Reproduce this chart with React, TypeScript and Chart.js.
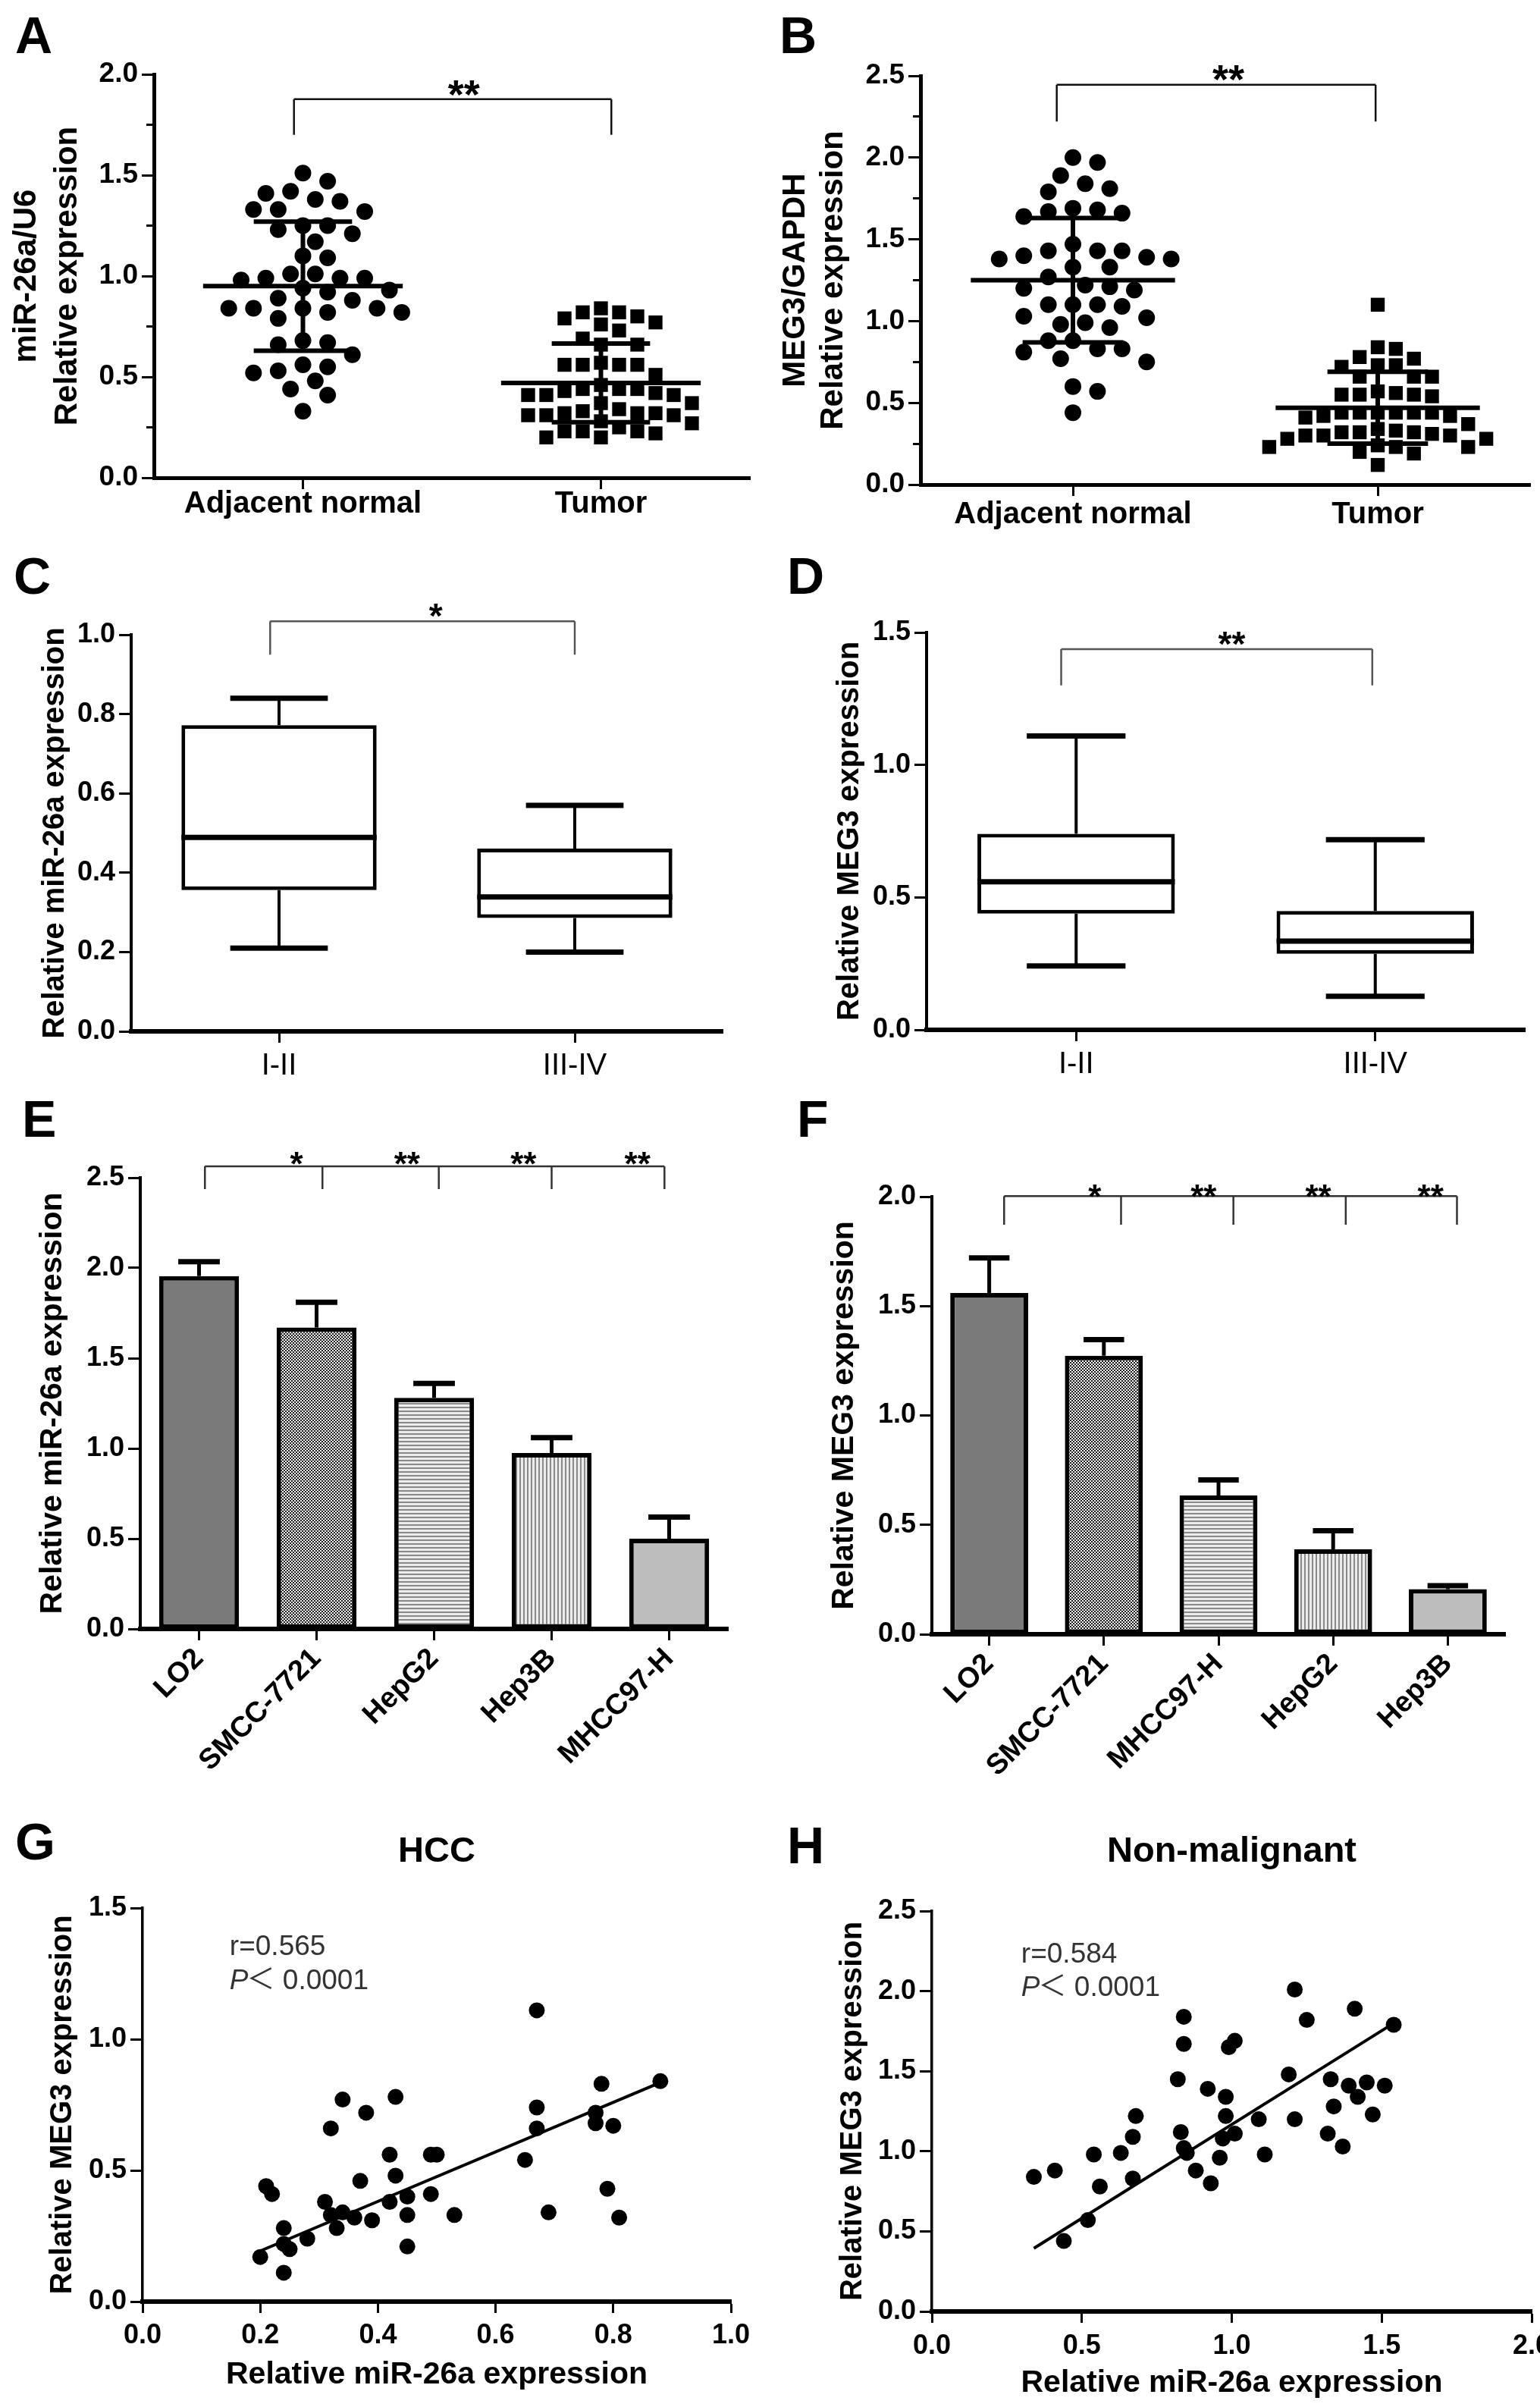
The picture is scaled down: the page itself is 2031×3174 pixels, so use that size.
import { useEffect, useRef } from "react";
import { Chart, registerables } from "chart.js";

Chart.register(...registerables);

const FONT = "'Liberation Sans', Arial, Helvetica, sans-serif";

// A: miR-26a/U6 in tissue
const tissueGroups = ["Adjacent normal", "Tumor"];
const mirNormal = [1.51, 1.47, 1.42, 1.41, 1.38, 1.37, 1.33, 1.33, 1.32, 1.25, 1.25, 1.21, 1.23, 1.17, 1.10, 1.09, 0.99, 0.99, 1.01, 1.01, 0.98, 0.99, 0.94, 0.92, 0.93, 0.88, 0.89, 0.84, 0.84, 0.82, 0.79, 0.82, 0.84, 0.84, 0.67, 0.66, 0.68, 0.61, 0.55, 0.52, 0.53, 0.56, 0.44, 0.48, 0.41, 0.33];
const mirTumor = [0.84, 0.82, 0.82, 0.79, 0.77, 0.80, 0.76, 0.73, 0.69, 0.66, 0.66, 0.56, 0.56, 0.57, 0.56, 0.56, 0.51, 0.46, 0.44, 0.44, 0.42, 0.41, 0.44, 0.41, 0.41, 0.43, 0.37, 0.37, 0.33, 0.31, 0.32, 0.32, 0.31, 0.31, 0.32, 0.34, 0.28, 0.27, 0.25, 0.23, 0.22, 0.20, 0.20, 0.23, 0.23];
const mirTissueMean = [0.95, 0.47];
const mirTissueSD = [0.32, 0.195];

// B: MEG3/GAPDH in tissue
const megNormal = [2.00, 1.97, 1.89, 1.84, 1.81, 1.79, 1.69, 1.67, 1.66, 1.64, 1.68, 1.43, 1.40, 1.39, 1.47, 1.38, 1.38, 1.43, 1.43, 1.33, 1.33, 1.27, 1.21, 1.19, 1.20, 1.22, 1.09, 1.10, 1.10, 1.10, 1.02, 1.03, 0.98, 0.96, 0.99, 0.88, 0.88, 0.83, 0.75, 0.77, 0.81, 0.83, 0.60, 0.57, 0.44];
const megTumor = [1.10, 0.84, 0.83, 0.77, 0.78, 0.73, 0.73, 0.72, 0.66, 0.66, 0.66, 0.57, 0.55, 0.55, 0.54, 0.56, 0.55, 0.44, 0.44, 0.44, 0.42, 0.37, 0.41, 0.42, 0.44, 0.44, 0.44, 0.34, 0.32, 0.30, 0.31, 0.28, 0.30, 0.28, 0.30, 0.32, 0.32, 0.33, 0.24, 0.23, 0.20, 0.19, 0.23, 0.23, 0.12];
const megTissueMean = [1.25, 0.47];
const megTissueSD = [0.38, 0.22];

// C / D: box plots by stage
const stageLabels = ["I-II", "III-IV"];
const mirStageMin = [0.21, 0.20];
const mirStageQ1 = [0.356, 0.286];
const mirStageMed = [0.489, 0.339];
const mirStageQ3 = [0.772, 0.461];
const mirStageMax = [0.84, 0.57];
const megStageMin = [0.241, 0.127];
const megStageQ1 = [0.439, 0.287];
const megStageMed = [0.559, 0.335];
const megStageQ3 = [0.74, 0.449];
const megStageMax = [1.109, 0.718];

// E / F: cell lines
const cellsE = ["LO2", "SMCC-7721", "HepG2", "Hep3B", "MHCC97-H"];
const mirCell = [1.955, 1.67, 1.28, 0.975, 0.50];
const mirCellErr = [0.08, 0.14, 0.08, 0.085, 0.12];
const cellsF = ["LO2", "SMCC-7721", "MHCC97-H", "HepG2", "Hep3B"];
const megCell = [1.56, 1.273, 0.634, 0.388, 0.206];
const megCellErr = [0.16, 0.074, 0.071, 0.085, 0.016];

// G / H: correlation
const hccMir = [0.88, 0.67, 0.67, 0.67, 0.78, 0.77, 0.77, 0.80, 0.65, 0.79, 0.69, 0.81, 0.34, 0.43, 0.38, 0.32, 0.42, 0.49, 0.50, 0.43, 0.37, 0.49, 0.45, 0.42, 0.45, 0.53, 0.21, 0.22, 0.31, 0.32, 0.34, 0.36, 0.39, 0.33, 0.24, 0.28, 0.24, 0.25, 0.45, 0.20, 0.24];
const hccMeg = [0.84, 1.11, 0.74, 0.66, 0.83, 0.72, 0.68, 0.67, 0.54, 0.43, 0.34, 0.32, 0.77, 0.78, 0.72, 0.66, 0.56, 0.56, 0.56, 0.48, 0.46, 0.41, 0.40, 0.38, 0.33, 0.33, 0.44, 0.41, 0.38, 0.33, 0.34, 0.32, 0.31, 0.28, 0.28, 0.24, 0.22, 0.20, 0.21, 0.17, 0.11];
const hccFitX = [0.2, 0.88];
const hccFitY = [0.193, 0.835];
const nonMir = [0.34, 0.41, 0.44, 0.52, 0.54, 0.56, 0.63, 0.67, 0.67, 0.68, 0.84, 0.84, 0.82, 0.83, 0.84, 0.85, 0.88, 0.92, 0.93, 0.96, 0.98, 0.98, 0.97, 0.99, 1.01, 1.01, 1.09, 1.11, 1.19, 1.21, 1.21, 1.25, 1.33, 1.34, 1.32, 1.37, 1.39, 1.41, 1.42, 1.45, 1.47, 1.51, 1.54];
const nonMeg = [0.84, 0.88, 0.44, 0.57, 0.98, 0.78, 0.99, 0.83, 1.09, 1.22, 1.84, 1.67, 1.45, 1.12, 1.02, 0.99, 0.88, 1.39, 0.80, 0.96, 1.34, 1.22, 1.08, 1.65, 1.69, 1.11, 1.20, 0.98, 1.48, 2.01, 1.20, 1.82, 1.45, 1.28, 1.11, 1.03, 1.41, 1.89, 1.34, 1.43, 1.23, 1.41, 1.79];
const nonFitX = [0.34, 1.54];
const nonFitY = [0.394, 1.80];

type Box = { left: number; top: number; w: number; h: number; l: number; t: number; r: number; b: number };

const boxA: Box = { left: 0, top: 0, w: 1015, h: 720, l: 203, t: 98, r: 989, b: 630 };
const boxB: Box = { left: 1015, top: 0, w: 1016, h: 720, l: 199, t: 100, r: 1008, b: 639 };
const boxC: Box = { left: 0, top: 720, w: 1015, h: 700, l: 173, t: 117, r: 953, b: 640 };
const boxD: Box = { left: 1015, top: 720, w: 1016, h: 700, l: 207, t: 114, r: 996, b: 638 };
const boxE: Box = { left: 0, top: 1420, w: 1015, h: 960, l: 185, t: 133, r: 960, b: 728 };
const boxF: Box = { left: 1015, top: 1420, w: 1016, h: 960, l: 214, t: 158, r: 970, b: 735 };
const boxG: Box = { left: 0, top: 2380, w: 1015, h: 794, l: 188, t: 136, r: 964, b: 655 };
const boxH: Box = { left: 1015, top: 2380, w: 1016, h: 794, l: 214, t: 140, r: 1005, b: 668 };

const base = (box: Box) => ({
  responsive: false,
  animation: false,
  layout: { padding: { left: 0, top: box.t, right: box.w - box.r, bottom: 0 } },
  plugins: { legend: { display: false }, tooltip: { enabled: false } },
});

function valueAxis(box: Box, o: any) {
  return {
    type: "linear",
    position: "left",
    weight: 1,
    min: 0,
    max: o.max,
    afterFit: (s: any) => { s.width = box.l; s.paddingTop = 0; s.paddingBottom = 0; },
    border: { display: true, color: "#000", width: o.border },
    grid: { display: true, drawOnChartArea: false, drawTicks: true, tickLength: 16, tickWidth: 3, tickColor: "#000" },
    ticks: {
      stepSize: o.step, padding: 5, color: "#000",
      font: { family: FONT, size: o.size, weight: "bold" },
      callback: (v: any) => Number(v).toFixed(1),
    },
    title: {
      display: true, text: o.title, color: "#000",
      font: { family: FONT, size: o.titleSize, weight: "bold", lineHeight: o.titleLH ?? 1.2 },
      padding: { top: o.titlePad, bottom: 0 },
    },
  };
}

function minorAxis(max: number, step: number) {
  return {
    type: "linear",
    position: "left",
    weight: 0,
    min: 0,
    max,
    afterFit: (s: any) => { s.width = 0; s.paddingTop = 0; s.paddingBottom = 0; },
    border: { display: false },
    grid: { display: true, drawOnChartArea: false, drawTicks: true, tickLength: 10, tickWidth: 3, tickColor: "#000" },
    ticks: { stepSize: step, display: false },
  };
}

function groupAxis(box: Box, labels: string[], o: any) {
  return {
    type: "linear",
    min: -0.5,
    max: labels.length - 0.5,
    afterBuildTicks: (s: any) => { s.ticks = labels.map((_, i) => ({ value: i })); },
    afterFit: (s: any) => { s.height = box.h - box.b; s.paddingLeft = 0; s.paddingRight = 0; },
    border: { display: true, color: "#000", width: o.border },
    grid: { display: true, drawOnChartArea: false, drawTicks: true, tickLength: 15, tickWidth: 3, tickColor: "#000" },
    ticks: {
      autoSkip: false, maxRotation: 0, minRotation: 0, padding: o.pad, color: "#000",
      font: { family: FONT, size: o.size, weight: "bold", lineHeight: 1 },
      callback: (v: any) => labels[Math.round(Number(v))],
    },
  };
}

function catAxis(box: Box, o: any) {
  return {
    type: "category",
    offset: true,
    afterFit: (s: any) => { s.height = box.h - box.b; s.paddingLeft = 0; s.paddingRight = 0; },
    border: { display: true, color: "#000", width: o.border },
    grid: { display: true, offset: false, drawOnChartArea: false, drawTicks: true, tickLength: 15, tickWidth: 3, tickColor: "#000" },
    ticks: {
      autoSkip: false, minRotation: o.rot, maxRotation: o.rot, padding: o.pad, color: "#000",
      font: { family: FONT, size: o.size, weight: o.weight, lineHeight: o.lh },
    },
  };
}

function numAxis(box: Box, o: any) {
  return {
    type: "linear",
    min: 0,
    max: o.max,
    afterFit: (s: any) => { s.height = box.h - box.b; s.paddingLeft = 0; s.paddingRight = 0; },
    border: { display: true, color: "#000", width: o.border },
    grid: { display: true, drawOnChartArea: false, drawTicks: true, tickLength: 15, tickWidth: 3, tickColor: "#000" },
    ticks: {
      stepSize: o.step, padding: o.pad, color: "#000",
      font: { family: FONT, size: o.size, weight: "bold" },
      callback: (v: any) => Number(v).toFixed(1),
    },
    title: {
      display: true, text: o.title, color: "#000",
      font: { family: FONT, size: o.titleSize, weight: "bold", lineHeight: 1.2 },
      padding: { top: 0, bottom: o.titlePad },
    },
  };
}

// spread equal-ish values sideways so that dots do not overlap
function swarm(vals: number[], center: number, pxX: number, pxY: number, gap: number, step: number, square: boolean) {
  const placed: { dx: number; py: number }[] = [];
  const out: { x: number; y: number }[] = new Array(vals.length);
  const order = vals.map((_, i) => i).sort((a, b) => vals[b] - vals[a]);
  for (const i of order) {
    const py = vals[i] * pxY;
    for (let k = 0; k < 80; k++) {
      const dx = (k % 2 ? 1 : -1) * Math.ceil(k / 2) * step;
      const clash = placed.some((p) =>
        square ? Math.abs(p.dx - dx) < gap && Math.abs(p.py - py) < gap : Math.hypot(p.dx - dx, p.py - py) < gap
      );
      if (!clash) {
        placed.push({ dx, py });
        out[i] = { x: center + dx / pxX, y: vals[i] };
        break;
      }
    }
  }
  return out;
}

function pattern(kind: string): any {
  if (kind === "dark") return "#7a7a7a";
  if (kind === "light") return "#bdbdbd";
  const c = document.createElement("canvas");
  const g = c.getContext("2d")!;
  if (kind === "checker") {
    c.width = 4; c.height = 4;
    g.fillStyle = "#f2f2f2"; g.fillRect(0, 0, 4, 4);
    g.fillStyle = "#1e1e1e"; g.fillRect(0, 0, 2, 2); g.fillRect(2, 2, 2, 2);
  } else if (kind === "hlines") {
    c.width = 4; c.height = 5;
    g.fillStyle = "#ececec"; g.fillRect(0, 0, 4, 5);
    g.fillStyle = "#8a8a8a"; g.fillRect(0, 0, 4, 2);
  } else {
    c.width = 5; c.height = 4;
    g.fillStyle = "#ececec"; g.fillRect(0, 0, 5, 4);
    g.fillStyle = "#8a8a8a"; g.fillRect(0, 0, 2, 4);
  }
  return g.createPattern(c, "repeat");
}
const barKinds = ["dark", "checker", "hlines", "vlines", "light"];

const decor = (draw: (c: any, ctx: CanvasRenderingContext2D) => void) => ({
  id: "decor",
  afterDraw(c: any) {
    const ctx = c.ctx;
    ctx.save();
    draw(c, ctx);
    ctx.restore();
  },
});

function letter(ctx: CanvasRenderingContext2D, s: string, x: number, baseline: number) {
  ctx.fillStyle = "#000";
  ctx.font = `bold 68px ${FONT}`;
  ctx.textAlign = "left";
  ctx.textBaseline = "alphabetic";
  ctx.fillText(s, x, baseline);
}

function bracket(c: any, ctx: CanvasRenderingContext2D, xs: number[], top: number, drop: number, stars: string[], starXs: number[], starY: number, o: any) {
  const X = c.scales.x, Y = c.scales.y;
  const yt = Y.getPixelForValue(top), yd = Y.getPixelForValue(drop);
  ctx.strokeStyle = o.color;
  ctx.lineWidth = o.lw;
  ctx.beginPath();
  ctx.moveTo(X.getPixelForValue(xs[0]), yt);
  ctx.lineTo(X.getPixelForValue(xs[xs.length - 1]), yt);
  xs.forEach((v) => {
    ctx.moveTo(X.getPixelForValue(v), yt);
    ctx.lineTo(X.getPixelForValue(v), yd);
  });
  ctx.stroke();
  ctx.fillStyle = "#000";
  ctx.font = `bold ${o.size}px ${FONT}`;
  ctx.textAlign = "center";
  ctx.textBaseline = "alphabetic";
  stars.forEach((s, i) => ctx.fillText(s, X.getPixelForValue(starXs[i]), Y.getPixelForValue(starY) + 0.56 * o.size));
}

function meanSd(c: any, ctx: CanvasRenderingContext2D, means: number[], sds: number[]) {
  const X = c.scales.x, Y = c.scales.y;
  ctx.strokeStyle = "#000";
  ctx.lineWidth = 6;
  ctx.beginPath();
  means.forEach((m, i) => {
    const y0 = Y.getPixelForValue(m), yHi = Y.getPixelForValue(m + sds[i]), yLo = Y.getPixelForValue(m - sds[i]);
    ctx.moveTo(X.getPixelForValue(i - 0.335), y0);
    ctx.lineTo(X.getPixelForValue(i + 0.335), y0);
    ctx.moveTo(X.getPixelForValue(i), yHi);
    ctx.lineTo(X.getPixelForValue(i), yLo);
    ctx.moveTo(X.getPixelForValue(i - 0.165), yHi);
    ctx.lineTo(X.getPixelForValue(i + 0.165), yHi);
    ctx.moveTo(X.getPixelForValue(i - 0.165), yLo);
    ctx.lineTo(X.getPixelForValue(i + 0.165), yLo);
  });
  ctx.stroke();
}

function whiskers(c: any, ctx: CanvasRenderingContext2D, mins: number[], q1: number[], med: number[], q3: number[], maxs: number[]) {
  const Y = c.scales.y;
  const meta = c.getDatasetMeta(0);
  meta.data.forEach((bar: any, i: number) => {
    const cx = bar.x, w = bar.width;
    ctx.strokeStyle = "#000";
    ctx.lineWidth = 4;
    ctx.beginPath();
    ctx.moveTo(cx, Y.getPixelForValue(q3[i]));
    ctx.lineTo(cx, Y.getPixelForValue(maxs[i]));
    ctx.moveTo(cx, Y.getPixelForValue(q1[i]));
    ctx.lineTo(cx, Y.getPixelForValue(mins[i]));
    ctx.stroke();
    ctx.lineWidth = 7;
    ctx.beginPath();
    ctx.moveTo(cx - w / 4, Y.getPixelForValue(maxs[i]));
    ctx.lineTo(cx + w / 4, Y.getPixelForValue(maxs[i]));
    ctx.moveTo(cx - w / 4, Y.getPixelForValue(mins[i]));
    ctx.lineTo(cx + w / 4, Y.getPixelForValue(mins[i]));
    ctx.moveTo(cx - w / 2, Y.getPixelForValue(med[i]));
    ctx.lineTo(cx + w / 2, Y.getPixelForValue(med[i]));
    ctx.stroke();
  });
}

function errorBars(c: any, ctx: CanvasRenderingContext2D, vals: number[], errs: number[]) {
  const Y = c.scales.y;
  const meta = c.getDatasetMeta(0);
  ctx.strokeStyle = "#000";
  meta.data.forEach((bar: any, i: number) => {
    const cx = bar.x, w = bar.width;
    const yTop = Y.getPixelForValue(vals[i] + errs[i]);
    ctx.lineWidth = 5;
    ctx.beginPath();
    ctx.moveTo(cx, Y.getPixelForValue(vals[i]));
    ctx.lineTo(cx, yTop);
    ctx.stroke();
    ctx.lineWidth = 7;
    ctx.beginPath();
    ctx.moveTo(cx - w * 0.26, yTop);
    ctx.lineTo(cx + w * 0.26, yTop);
    ctx.stroke();
  });
}

function corrText(c: any, ctx: CanvasRenderingContext2D, r: string, x: number, yR: number, yP: number) {
  const X = c.scales.x, Y = c.scales.y;
  const px = X.getPixelForValue(x);
  ctx.fillStyle = "#333";
  ctx.textAlign = "left";
  ctx.textBaseline = "alphabetic";
  ctx.font = `37px ${FONT}`;
  ctx.fillText(r, px, Y.getPixelForValue(yR) + 13);
  ctx.font = `italic 37px ${FONT}`;
  ctx.fillText("P", px, Y.getPixelForValue(yP) + 13);
  const w = ctx.measureText("P").width;
  ctx.font = `37px ${FONT}, 'Noto Sans CJK SC', sans-serif`;
  ctx.fillText("＜ 0.0001", px + w - 2, Y.getPixelForValue(yP) + 13);
}

function panelTitle(c: any, ctx: CanvasRenderingContext2D, s: string, baseline: number) {
  const a = c.chartArea;
  ctx.fillStyle = "#000";
  ctx.font = `bold 47px ${FONT}`;
  ctx.textAlign = "center";
  ctx.textBaseline = "alphabetic";
  ctx.fillText(s, (a.left + a.right) / 2, baseline);
}

const BR_AB = { color: "#111", lw: 2.5, size: 54 };
const BR_CD = { color: "#555", lw: 2.5, size: 46 };
const BR_EF = { color: "#333", lw: 2.5, size: 44 };

function makeTissue(box: Box, normal: number[], tumor: number[], means: number[], sds: number[], o: any) {
  const pxX = (box.r - box.l) / tissueGroups.length;
  const pxY = (box.b - box.t) / o.max;
  return {
    type: "scatter",
    data: {
      datasets: [
        { data: swarm(normal, 0, pxX, pxY, 24, 16.3, false), xAxisID: "x", yAxisID: "y", pointStyle: "circle", pointRadius: 11, backgroundColor: "#000", borderWidth: 0 },
        { data: swarm(tumor, 1, pxX, pxY, 21, 12, true), xAxisID: "x", yAxisID: "y", pointStyle: "rect", pointRadius: 13, backgroundColor: "#000", borderWidth: 0 },
      ],
    },
    options: {
      ...base(box),
      scales: {
        x: groupAxis(box, tissueGroups, { border: 5, size: 40, pad: o.xPad }),
        y: valueAxis(box, { max: o.max, step: 0.5, border: 5, size: 37, title: o.title, titleSize: 42, titleLH: o.titleLH, titlePad: o.titlePad }),
        yMinor: minorAxis(o.max, 0.25),
      },
    },
    plugins: [decor((c, ctx) => {
      meanSd(c, ctx, means, sds);
      o.extra(c, ctx);
    })],
  };
}

function makeA() {
  return makeTissue(boxA, mirNormal, mirTumor, mirTissueMean, mirTissueSD, {
    max: 2, xPad: 0, title: ["miR-26a/U6", "Relative expression"], titleLH: 1.29, titlePad: 8,
    extra: (c: any, ctx: any) => {
      bracket(c, ctx, [-0.03, 1.035], 1.877, 1.70, ["**"], [0.54], 1.944, BR_AB);
      letter(ctx, "A", 20, 70);
    },
  });
}

function makeB() {
  return makeTissue(boxB, megNormal, megTumor, megTissueMean, megTissueSD, {
    max: 2.5, xPad: 5, title: ["MEG3/GAPDH", "Relative expression"], titleLH: 1.21, titlePad: 8.6,
    extra: (c: any, ctx: any) => {
      bracket(c, ctx, [-0.053, 0.993], 2.445, 2.221, ["**"], [0.51], 2.532, BR_AB);
      letter(ctx, "B", 13, 70);
    },
  });
}

function makeBox(box: Box, mins: number[], q1: number[], med: number[], q3: number[], maxs: number[], o: any) {
  return {
    type: "bar",
    data: {
      labels: stageLabels,
      datasets: [{
        data: q1.map((q, i) => [q, q3[i]]),
        backgroundColor: "#fff", borderColor: "#000", borderWidth: 5, borderSkipped: false,
        barPercentage: 0.66, categoryPercentage: 1,
      }],
    },
    options: {
      ...base(box),
      scales: {
        x: catAxis(box, { border: 6, rot: 0, pad: 11, size: 40, weight: "normal", lh: 1 }),
        y: valueAxis(box, { max: o.max, step: o.step, border: 4, size: 36, title: o.title, titleSize: 40, titlePad: o.titlePad }),
      },
    },
    plugins: [decor((c, ctx) => {
      whiskers(c, ctx, mins, q1, med, q3, maxs);
      o.extra(c, ctx);
    })],
  };
}

function makeC() {
  return makeBox(boxC, mirStageMin, mirStageQ1, mirStageMed, mirStageQ3, mirStageMax, {
    max: 1, step: 0.2, title: "Relative miR-26a expression", titlePad: 49,
    extra: (c: any, ctx: any) => {
      bracket(c, ctx, [-0.03, 1.0], 1.034, 0.95, ["*"], [0.53], 1.067, BR_CD);
      letter(ctx, "C", 18, 63);
    },
  });
}

function makeD() {
  return makeBox(boxD, megStageMin, megStageQ1, megStageMed, megStageQ3, megStageMax, {
    max: 1.5, step: 0.5, title: "Relative MEG3 expression", titlePad: 82,
    extra: (c: any, ctx: any) => {
      bracket(c, ctx, [-0.05, 0.99], 1.437, 1.30, ["**"], [0.52], 1.486, BR_CD);
      letter(ctx, "D", 23, 63);
    },
  });
}

function makeCells(box: Box, labels: string[], vals: number[], errs: number[], o: any) {
  return {
    type: "bar",
    data: {
      labels,
      datasets: [{
        data: vals,
        backgroundColor: barKinds.map(pattern),
        borderColor: "#000", borderWidth: 6, borderSkipped: false,
        barPercentage: 0.68, categoryPercentage: 1,
      }],
    },
    options: {
      ...base(box),
      scales: {
        x: catAxis(box, { border: 6, rot: 45, pad: 2, size: 38, weight: "bold", lh: 1.2 }),
        y: valueAxis(box, { max: o.max, step: 0.5, border: 4, size: 36, title: o.title, titleSize: 41, titlePad: o.titlePad }),
      },
    },
    plugins: [decor((c, ctx) => {
      errorBars(c, ctx, vals, errs);
      o.extra(c, ctx);
    })],
  };
}

function makeE() {
  return makeCells(boxE, cellsE, mirCell, mirCellErr, {
    max: 2.5, title: "Relative miR-26a expression", titlePad: 45,
    extra: (c: any, ctx: any) => {
      bracket(c, ctx, [0.05, 1.05, 2.04, 3.0, 3.96], 2.563, 2.437, ["*", "**", "**", "**"], [0.83, 1.77, 2.76, 3.73], 2.618, BR_EF);
      letter(ctx, "E", 29, 79);
    },
  });
}

function makeF() {
  return makeCells(boxF, cellsF, megCell, megCellErr, {
    max: 2, title: "Relative MEG3 expression", titlePad: 74,
    extra: (c: any, ctx: any) => {
      bracket(c, ctx, [0.13, 1.15, 2.13, 3.11, 4.08], 2.003, 1.872, ["*", "**", "**", "**"], [0.92, 1.87, 2.87, 3.85], 2.035, BR_EF);
      letter(ctx, "F", 36, 79);
    },
  });
}

function makeCorr(box: Box, xs: number[], ys: number[], fx: number[], fy: number[], o: any) {
  return {
    type: "scatter",
    data: {
      datasets: [
        { data: xs.map((x, i) => ({ x, y: ys[i] })), pointRadius: 10.5, backgroundColor: "#000", borderWidth: 0 },
        { data: fx.map((x, i) => ({ x, y: fy[i] })), showLine: true, pointRadius: 0, borderColor: "#000", borderWidth: 4, fill: false },
      ],
    },
    options: {
      ...base(box),
      scales: {
        x: numAxis(box, { max: o.xMax, step: o.xStep, border: 6, size: 36, pad: o.tickPad, title: "Relative miR-26a expression", titleSize: 41, titlePad: o.xTitlePad }),
        y: valueAxis(box, { max: o.yMax, step: 0.5, border: 3.5, size: 36, title: "Relative MEG3 expression", titleSize: 40, titlePad: o.yTitlePad }),
      },
    },
    plugins: [decor((c, ctx) => {
      panelTitle(c, ctx, o.name, 75);
      corrText(c, ctx, o.r, o.textX, o.rY, o.pY);
      letter(ctx, o.letter, o.letterX, o.letterY);
    })],
  };
}

function makeG() {
  return makeCorr(boxG, hccMir, hccMeg, hccFitX, hccFitY, {
    xMax: 1, xStep: 0.2, yMax: 1.5, tickPad: 8, xTitlePad: 18, yTitlePad: 59,
    name: "HCC", r: "r=0.565", textX: 0.148, rY: 1.358, pY: 1.228, letter: "G", letterX: 20, letterY: 72,
  });
}

function makeH() {
  return makeCorr(boxH, nonMir, nonMeg, nonFitX, nonFitY, {
    xMax: 2, xStep: 0.5, yMax: 2.5, tickPad: 9, xTitlePad: 7, yTitlePad: 86,
    name: "Non-malignant", r: "r=0.584", textX: 0.298, rY: 2.24, pY: 2.03, letter: "H", letterX: 23, letterY: 77,
  });
}

function ChartPanel({ box, make }: { box: Box; make: () => any }) {
  const ref = useRef<HTMLCanvasElement>(null);
  useEffect(() => {
    if (!ref.current) return;
    const chart = new Chart(ref.current, make());
    return () => chart.destroy();
  }, [box, make]);
  return (
    <canvas
      ref={ref}
      width={box.w}
      height={box.h}
      style={{ position: "absolute", left: box.left, top: box.top, width: box.w, height: box.h }}
    />
  );
}

export default function App() {
  return (
    <div style={{ position: "absolute", left: 0, top: 0, width: 2031, height: 3174, background: "#fff", overflow: "hidden" }}>
      <ChartPanel box={boxA} make={makeA} />
      <ChartPanel box={boxB} make={makeB} />
      <ChartPanel box={boxC} make={makeC} />
      <ChartPanel box={boxD} make={makeD} />
      <ChartPanel box={boxE} make={makeE} />
      <ChartPanel box={boxF} make={makeF} />
      <ChartPanel box={boxG} make={makeG} />
      <ChartPanel box={boxH} make={makeH} />
    </div>
  );
}
